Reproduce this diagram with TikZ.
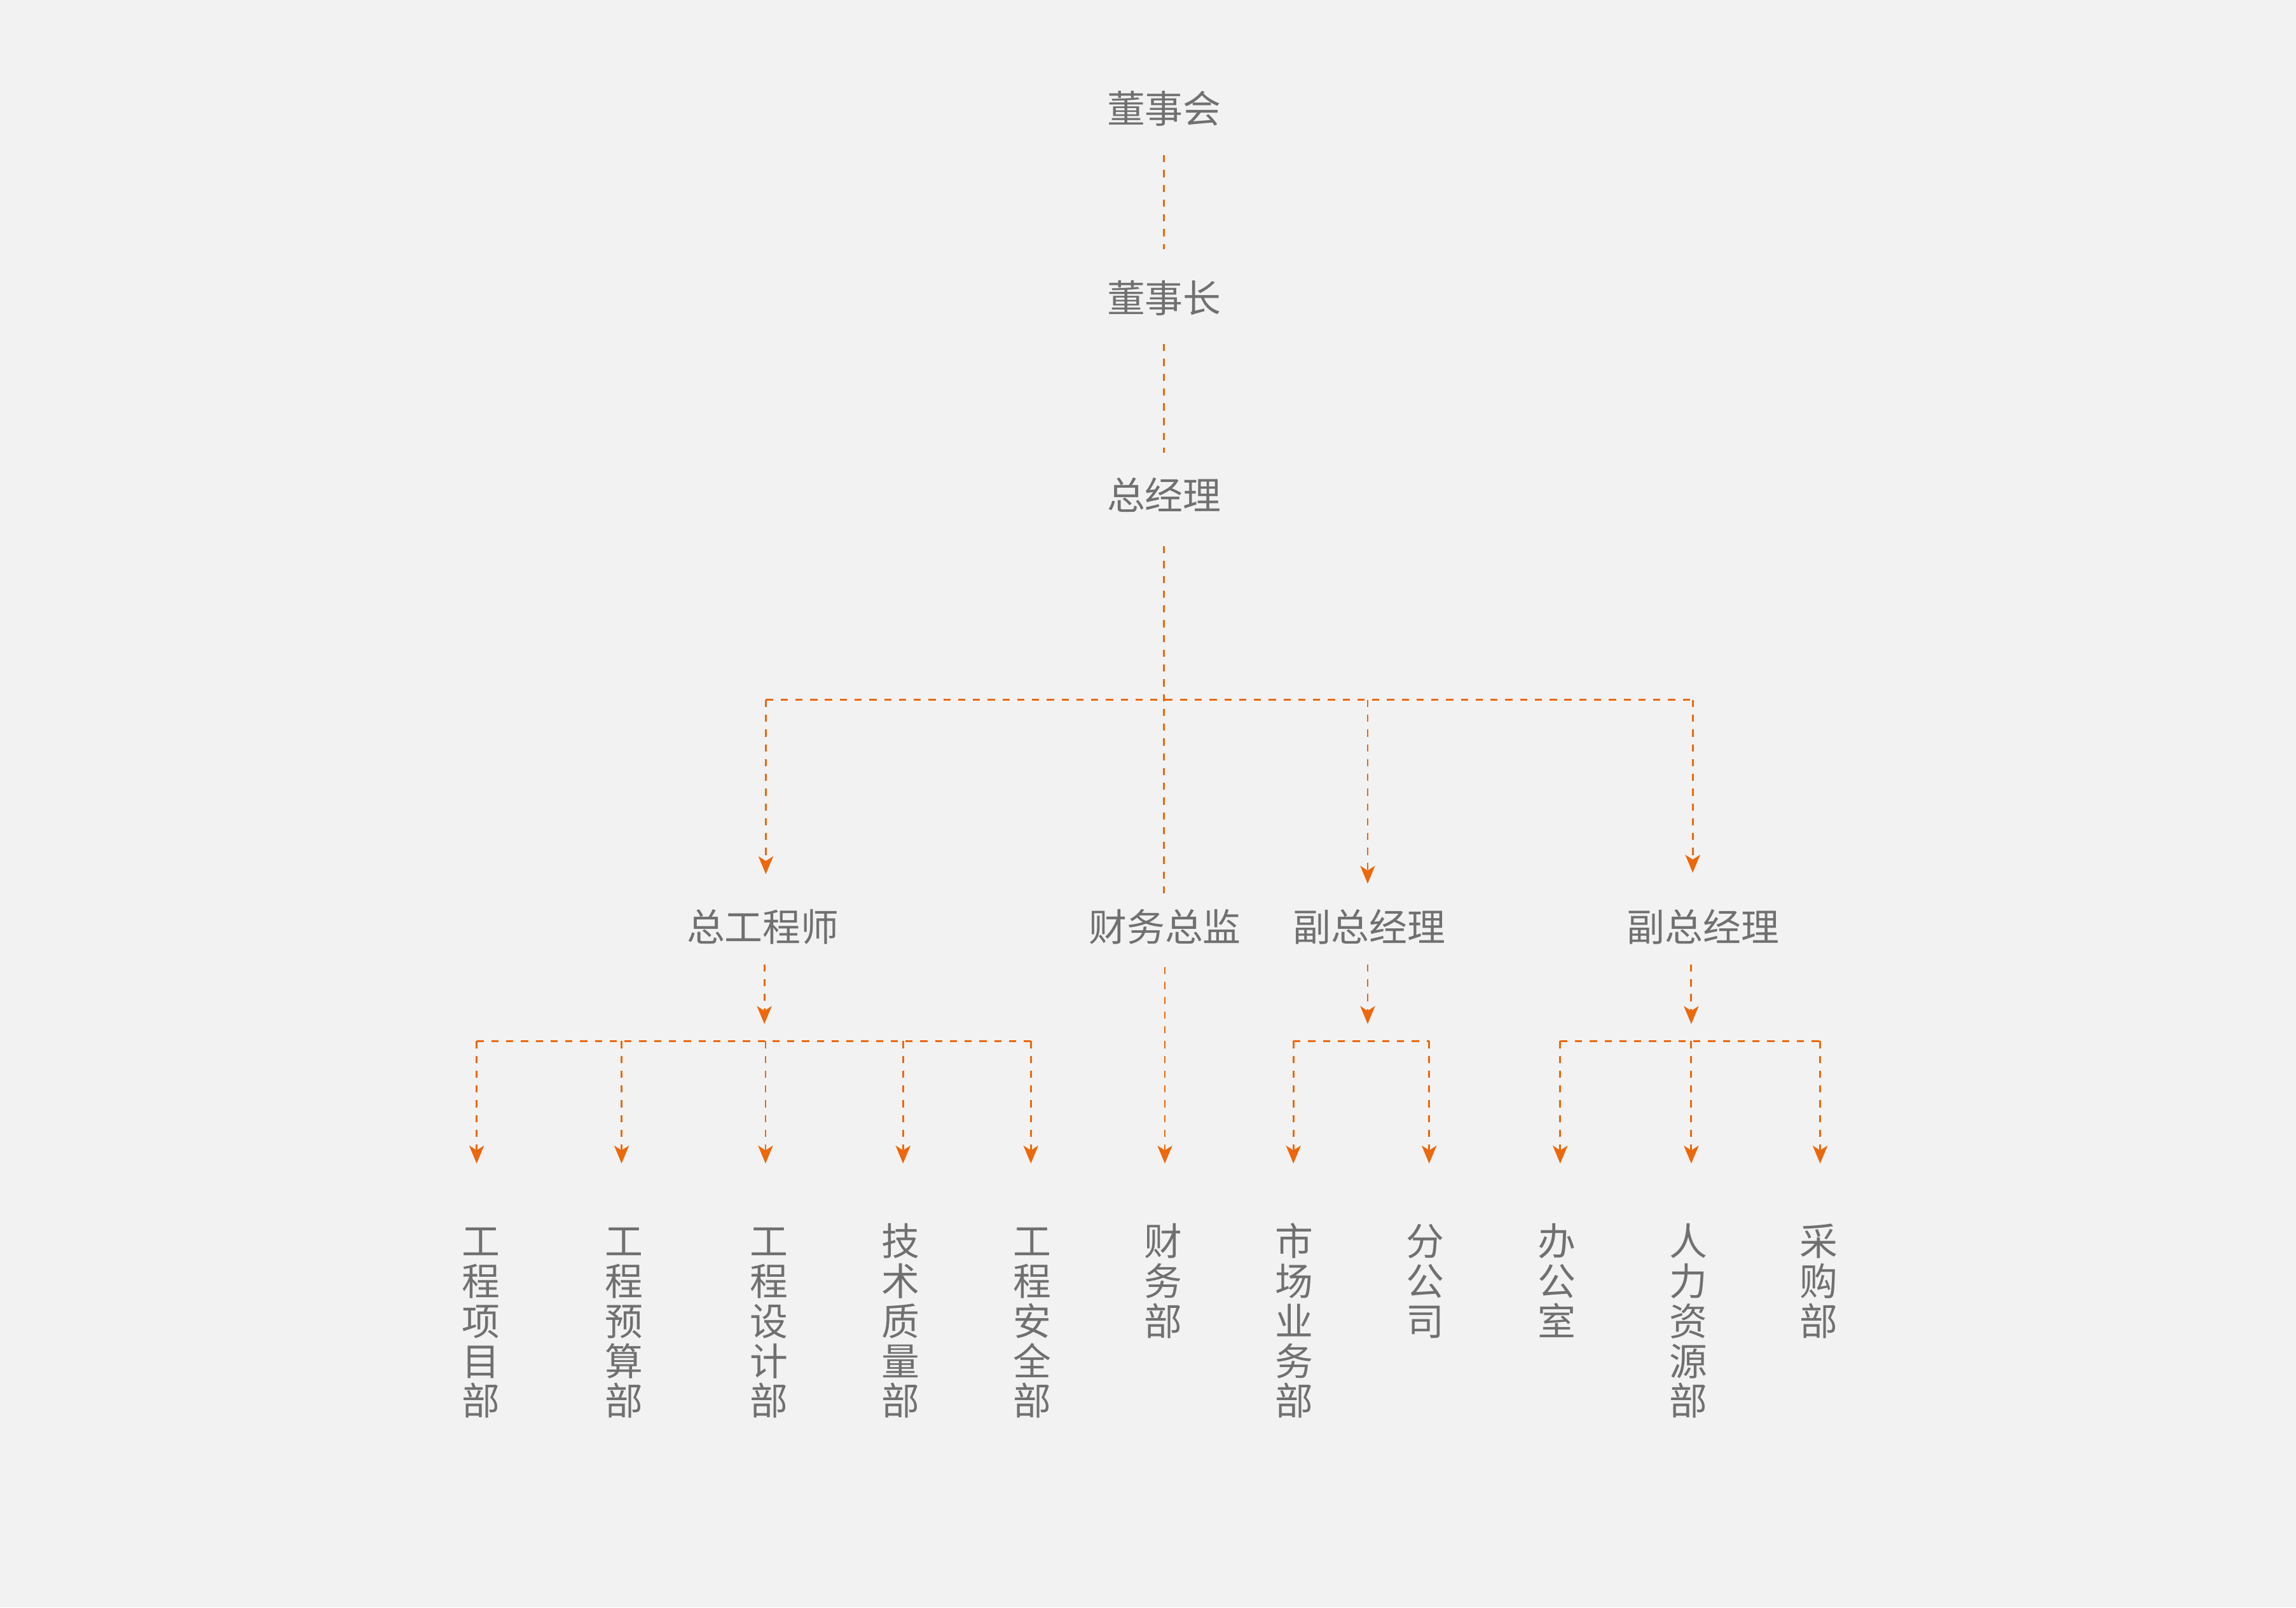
\documentclass[tikz,border=0pt]{standalone}
\usepackage{fontspec}
\usetikzlibrary{arrows.meta}
\newfontfamily\cjk{Noto Sans CJK SC}
\definecolor{bgc}{RGB}{242,242,242}
\definecolor{txc}{RGB}{112,112,112}
\definecolor{orc}{RGB}{236,104,12}
\newcommand\ST{\rule[-0.12em]{0pt}{1em}}
\begin{document}
\begin{tikzpicture}[x=1pt,y=1pt,
  lbl/.style={font=\cjk\fontsize{26}{27.25}\selectfont, text=txc, inner sep=0pt, outer sep=0pt},
  vlbl/.style={lbl, align=center, anchor=north},
  dl/.style={draw=orc, line width=1.25pt, dash pattern=on 4.9pt off 5.2pt},
  ar/.style={dl, -{Stealth[length=12.2pt,width=10.1pt,inset=3.2pt]}}]
\fill[bgc] (0,0) rectangle (1568,-1097.75);
\useasboundingbox (0,0) rectangle (1568,-1097.75);

% top chain
\node[lbl] (bod)   at (795,-74)    {\ST 董事会};
\node[lbl] (chair) at (795,-203.5) {\ST 董事长};
\node[lbl] (gm)    at (795,-338)   {\ST 总经理};

% second level
\node[lbl] (ce)  at (521,-633)   {\ST 总工程师};
\node[lbl] (cfo) at (795.5,-633) {\ST 财务总监};
\node[lbl] (vp1) at (935,-633)   {\ST 副总经理};
\node[lbl] (vp2) at (1163,-633)  {\ST 副总经理};

% departments (vertical text)
\node[vlbl] (d1)  at (328.5,-834.6) {\ST 工\\程\\项\\目\\部};
\node[vlbl] (d2)  at (426,-834.6)   {\ST 工\\程\\预\\算\\部};
\node[vlbl] (d3)  at (525,-834.6)   {\ST 工\\程\\设\\计\\部};
\node[vlbl] (d4)  at (615,-834.6)   {\ST 技\\术\\质\\量\\部};
\node[vlbl] (d5)  at (705,-834.6)   {\ST 工\\程\\安\\全\\部};
\node[vlbl] (d6)  at (794.5,-834.6) {\ST 财\\务\\部};
\node[vlbl] (d7)  at (884,-834.6)   {\ST 市\\场\\业\\务\\部};
\node[vlbl] (d8)  at (973.5,-834.6) {\ST 分\\公\\司};
\node[vlbl] (d9)  at (1063,-834.6)  {\ST 办\\公\\室};
\node[vlbl] (d10) at (1153,-834.6)  {\ST 人\\力\\资\\源\\部};
\node[vlbl] (d11) at (1242,-834.6)  {\ST 采\\购\\部};

% junction coordinates
\coordinate (bl) at (523,-478);
\coordinate (b1) at (934,-478);
\coordinate (br) at (1156,-478);
\coordinate (jl) at (522,-711);
\coordinate (jm) at (934,-711);
\coordinate (jr) at (1155,-711);
\coordinate (l1) at (325.5,-711);
\coordinate (l2) at (424.5,-711);
\coordinate (l3) at (522.8,-711);
\coordinate (l4) at (616.7,-711);
\coordinate (l5) at (704,-711);
\coordinate (m1) at (883.3,-711);
\coordinate (m2) at (976,-711);
\coordinate (r1) at (1065.5,-711);
\coordinate (r2) at (1155,-711);
\coordinate (r3) at (1243,-711);

% top chain connectors
\draw[dl, shorten <=19pt, shorten >=20.5pt] (bod.south) -- (chair.north);
\draw[dl, shorten <=18.5pt, shorten >=16pt] (chair.south) -- (gm.north);
\draw[dl, shorten <=22pt, shorten >=10pt] (gm.south) -- (gm.south |- cfo.north);

% first bus
\draw[dl] (bl) -- (br);
\draw[ar, shorten >=23pt] (bl) -- (bl |- ce.north);
\draw[ar, shorten >=16.5pt] (b1) -- (b1 |- vp1.north);
\draw[ar, shorten >=24pt] (br) -- (br |- vp2.north);

% second level down
\draw[ar, shorten <=12.5pt, shorten >=11.7pt] (ce.south -| jl) -- (jl);
\draw[ar, shorten <=12.7pt, shorten >=11.7pt] (vp1.south -| jm) -- (jm);
\draw[ar, shorten <=12.7pt, shorten >=11.7pt] (vp2.south -| jr) -- (jr);
\draw[ar, shorten <=14.5pt, shorten >=40pt] (cfo.south) -- (cfo.south |- d6.north);

% lower buses
\draw[dl] (l1) -- (l5);
\draw[dl] (m1) -- (m2);
\draw[dl] (r1) -- (r3);

\draw[ar, shorten >=40pt] (l1) -- (l1 |- d1.north);
\draw[ar, shorten >=40pt] (l2) -- (l2 |- d2.north);
\draw[ar, shorten >=40pt] (l3) -- (l3 |- d3.north);
\draw[ar, shorten >=40pt] (l4) -- (l4 |- d4.north);
\draw[ar, shorten >=40pt] (l5) -- (l5 |- d5.north);
\draw[ar, shorten >=40pt] (m1) -- (m1 |- d7.north);
\draw[ar, shorten >=40pt] (m2) -- (m2 |- d8.north);
\draw[ar, shorten >=40pt] (r1) -- (r1 |- d9.north);
\draw[ar, shorten >=40pt] (r2) -- (r2 |- d10.north);
\draw[ar, shorten >=40pt] (r3) -- (r3 |- d11.north);
\end{tikzpicture}
\end{document}
